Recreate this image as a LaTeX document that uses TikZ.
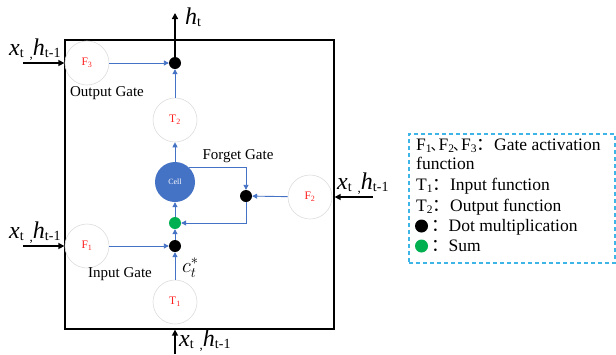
\documentclass[tikz,border=0pt]{standalone}
\usepackage{fontspec}
\setmainfont{Liberation Serif}
\newfontfamily\cjk{Noto Sans CJK SC}
\usetikzlibrary{arrows.meta}
\definecolor{myblue}{HTML}{4472C4}
\definecolor{mygreen}{HTML}{00B050}
\definecolor{legblue}{HTML}{3DB5E6}
\definecolor{circgray}{HTML}{DDDDDD}
\definecolor{gred}{HTML}{FF2020}
\newcommand{\bigit}[1]{{\fontsize{24}{24}\selectfont\itshape #1}}
\newcommand{\subr}[1]{\raisebox{-2.5pt}{\fontsize{14}{14}\selectfont #1}}
\newcommand{\xhlab}{\bigit{x}\subr{t}\hspace{6pt}\raisebox{-3pt}{\fontsize{13}{13}\selectfont ,}\bigit{h}\subr{t-1}}
\newcommand{\legsub}[1]{\raisebox{-2.5pt}{\fontsize{11.5}{11.5}\selectfont #1}}
\newcommand{\dunhao}{\hbox to 7pt{\hspace{-1pt}{\fontsize{14}{14}\cjk 、}\hss}}
\tikzset{
  gatecirc/.style={circle, draw=circgray, line width=0.6pt, fill=white, minimum size=44pt, inner sep=0pt, text=gred, font=\fontsize{11.5}{11.5}\selectfont},
  bdot/.style={circle, fill=black, minimum size=12pt, inner sep=0pt},
  gdot/.style={circle, fill=mygreen, minimum size=12pt, inner sep=0pt},
  barrow/.style={draw=myblue, line width=0.9pt, -{Triangle[length=5pt,width=5pt]}},
  karrow/.style={draw=black, line width=1.8pt, -{Triangle[length=6pt,width=6pt]}},
  gatelab/.style={font=\fontsize{15}{15}\selectfont, inner sep=0pt},
  legtext/.style={anchor=base west, inner sep=0pt, font=\fontsize{17.5}{17.5}\selectfont},
  xhnode/.style={anchor=base west, inner sep=0pt}
}
\begin{document}
\begin{tikzpicture}[x=1pt,y=-1pt]
\useasboundingbox (0,0) rectangle (616,354);
% main box
\node[draw, line width=1.3pt, minimum width=269pt, minimum height=289pt, inner sep=0pt] (box) at (199.5,184.5) {};
% gates
\node[gatecirc] (F3) at (87,63) {F\textsubscript{3}};
\node[gatecirc] (T2) at (175,120) {T\textsubscript{2}};
\node[circle, fill=myblue, minimum size=40pt, inner sep=0pt, text=white, font=\fontsize{8}{8}\selectfont] (cell) at (175,182) {Cell};
\node[gatecirc] (F2) at (310,197) {F\textsubscript{2}};
\node[gatecirc] (F1) at (87,246) {F\textsubscript{1}};
\node[gatecirc] (T1) at (175,302) {T\textsubscript{1}};
% dots
\node[bdot] (od) at (175,63) {};
\node[bdot] (fd) at (246,196) {};
\node[gdot] (gd) at (175,223) {};
\node[bdot] (id) at (175,246) {};
% blue connectors
\draw[barrow] (F3) -- (od);
\draw[barrow] (T2) -- (od);
\draw[barrow] (cell) -- (T2);
\draw[barrow] (cell.45) -- (cell.45 -| fd) -- (fd);
\draw[barrow] (F2) -- (fd);
\draw[barrow] (fd) -- (fd |- gd) -- (gd);
\draw[barrow] (gd) -- (cell);
\draw[barrow] (id) -- (gd);
\draw[barrow] (F1) -- (id);
\draw[barrow] (T1) -- (id);
% black connectors
\coordinate (htop) at (175,13);
\draw[karrow] (od.center) -- (htop);
\coordinate (bin) at (175,354);
\draw[karrow] (bin) -- (bin |- box.south);
\coordinate (lin1) at (23,63);
\draw[karrow] (lin1) -- (lin1 -| box.west);
\coordinate (lin2) at (23,246);
\draw[karrow] (lin2) -- (lin2 -| box.west);
\coordinate (rin) at (373,197);
\draw[karrow] (rin) -- (rin -| box.east);
% labels
\node[xhnode] (labh) at (185,24) {\bigit{h}\subr{t}};
\node[xhnode] (lab1) at (9,55) {\xhlab};
\node[xhnode] (lab2) at (9,238) {\xhlab};
\node[xhnode] (lab3) at (337,189) {\xhlab};
\node[xhnode] (lab4) at (179,346) {\xhlab};
\node[gatelab] (og) at (107,93) {Output Gate};
\node[gatelab] (fg) at (238,156) {Forget Gate};
\node[gatelab] (ig) at (120,274) {Input Gate};
\node[anchor=base west, inner sep=0pt, font=\fontsize{22}{22}\selectfont] (ct) at (182,272) {$c_t^*$};
% legend
\node[draw=legblue, dash pattern=on 4pt off 3pt, line width=1.5pt, minimum width=206pt, minimum height=129pt, inner sep=0pt, anchor=north west] (leg) at (408,133) {};
\node[legtext] (l1) at (416,150) {F\legsub{1}\dunhao F\legsub{2}\dunhao F\legsub{3}{\cjk ：}Gate activation};
\node[legtext] (l2) at (416,169) {function};
\node[legtext] (l3) at (416,190) {T\legsub{1}{\cjk ：}Input function};
\node[legtext] (l4) at (416,211) {T\legsub{2}{\cjk ：}Output function};
\node[bdot, minimum size=13pt] (ld1) at (421.5,226) {};
\node[legtext] (l5) at (431,231) {{\cjk ：}Dot multiplication};
\node[gdot, minimum size=13pt] (ld2) at (421.5,246) {};
\node[legtext] (l6) at (431,251) {{\cjk ：}Sum};
\end{tikzpicture}
\end{document}
